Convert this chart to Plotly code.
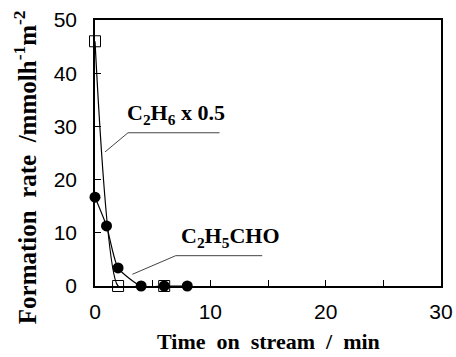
import plotly.graph_objects as go

# Data
time_c2h6 = [0, 2, 6]
rate_c2h6_half = [46.0, 0.0, 0.0]
time_c2h5cho = [0, 1, 2, 4, 6, 8]
rate_c2h5cho = [16.7, 11.3, 3.4, 0.0, 0.0, 0.0]

x_ticks = [0, 10, 20, 30]
y_ticks = [0, 10, 20, 30, 40, 50]

serif = "Liberation Serif, Times New Roman, serif"
sans = "Liberation Sans, Arial, sans-serif"

fig = go.Figure()
fig.add_trace(go.Scatter(
    x=time_c2h6, y=rate_c2h6_half, mode="lines+markers",
    line=dict(color="black", width=1.2, shape="spline", smoothing=0.4),
    marker=dict(symbol="square-open", size=11, color="black", line=dict(width=1, color="#333")),
    cliponaxis=False, showlegend=False))
fig.add_trace(go.Scatter(
    x=time_c2h5cho, y=rate_c2h5cho, mode="lines+markers",
    line=dict(color="black", width=1.2, shape="spline", smoothing=0.6),
    marker=dict(symbol="circle", size=11, color="black"),
    cliponaxis=False, showlegend=False))

# leader lines for labels
lc = "#444"
fig.add_shape(type="line", x0=2.86, y0=28.8, x1=10.8, y1=28.8, line=dict(color=lc, width=1))
fig.add_shape(type="line", x0=2.86, y0=28.8, x1=0.87, y1=25.2, line=dict(color=lc, width=1))
fig.add_shape(type="line", x0=7.0, y0=5.7, x1=14.5, y1=5.7, line=dict(color=lc, width=1))
fig.add_shape(type="line", x0=7.0, y0=5.7, x1=3.24, y1=2.2, line=dict(color=lc, width=1))

fig.add_annotation(x=2.6, y=29.3, xref="x", yref="y", xanchor="left", yanchor="bottom",
                   text="<b>C<sub>2</sub>H<sub>6</sub> x 0.5</b>", showarrow=False,
                   font=dict(family=serif, size=22, color="black"))
fig.add_annotation(x=7.3, y=6.2, xref="x", yref="y", xanchor="left", yanchor="bottom",
                   text="<b>C<sub>2</sub>H<sub>5</sub>CHO</b>", showarrow=False,
                   font=dict(family=serif, size=22, color="black"))

# axis titles
fig.add_annotation(x=0.5, y=-0.265, xref="paper", yref="paper", xanchor="center", yanchor="bottom",
                   text="<b>Time  on  stream  /  min</b>", showarrow=False,
                   font=dict(family=serif, size=22, color="black"))
fig.add_annotation(x=-0.202, y=0.447, xref="paper", yref="paper", xanchor="center", yanchor="middle",
                   textangle=-90,
                   text="<b>Formation  rate  /mmolh<sup>-1</sup>m<sup>-2</sup></b>", showarrow=False,
                   font=dict(family=serif, size=25, color="black"))

fig.update_layout(
    width=456, height=357,
    margin=dict(l=95, r=15, t=20, b=71, autoexpand=False),
    plot_bgcolor="white", paper_bgcolor="white",
    xaxis=dict(range=[0, 30], tickvals=x_ticks, ticks="inside", ticklen=6,
               tickcolor="black", showline=True, linecolor="black", linewidth=1.5,
               mirror=True, showgrid=False, zeroline=False, ticklabelstandoff=6,
               automargin=False,
               minor=dict(dtick=5, ticks="inside", ticklen=6, tickcolor="black"),
               tickfont=dict(family=sans, size=21, color="black")),
    yaxis=dict(range=[0, 50], tickvals=y_ticks, ticks="inside", ticklen=6,
               tickcolor="black", showline=True, linecolor="black", linewidth=1.5,
               mirror=True, showgrid=False, zeroline=False, ticklabelstandoff=12,
               automargin=False,
               tickfont=dict(family=sans, size=21, color="black")),
)

fig.write_html("out.html")
